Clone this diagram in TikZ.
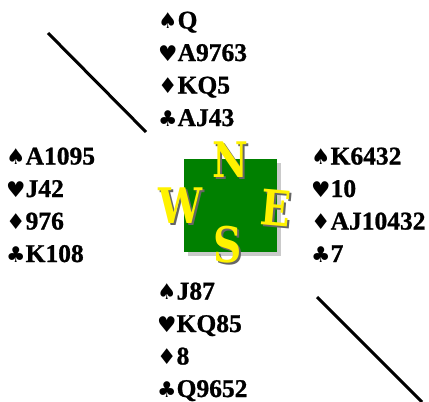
\documentclass[tikz,border=0pt]{standalone}
\usepackage{fontspec}
\setmainfont{Liberation Serif}[BoldFeatures={FakeBold=1}]
\newfontfamily\suitfont{DejaVu Sans}[Scale=0.85]
\newfontfamily\compassfont{DejaVu Serif}
\usetikzlibrary{positioning}

\newcommand\spd{{\suitfont ♠}}
\newcommand\hrt{{\suitfont ♥}}
\newcommand\dmd{{\suitfont ♦}}
\newcommand\clb{{\suitfont ♣}}
\newcommand\narrow[1]{\scalebox{0.8}[1]{#1}}

\begin{document}
\begin{tikzpicture}[x=1pt, y=-1pt,
    every node/.style={inner sep=0pt},
    hand/.style={anchor=base west, align=left, font=\bfseries\fontsize{25.5}{32.5}\selectfont},
    letter/.style={font=\compassfont\bfseries\fontsize{49}{49}\selectfont}]
    \useasboundingbox (0,0) rectangle (429,402);

    % the four hands (anchored at the baseline of the last line)
    \node (north) [hand] at (158,126) {\spd Q\\\hrt A9763\\\dmd KQ5\\\clb AJ43};
    \node (west)  [hand] at (6,262)   {\spd A1095\\\hrt J42\\\dmd 976\\\clb K108};
    \node (east)  [hand] at (311,262) {\spd K6432\\\hrt 10\\\dmd AJ10432\\\clb 7};
    \node (south) [hand] at (157,397) {\spd J87\\\hrt KQ85\\\dmd 8\\\clb Q9652};

    % compass
    \fill[black!35, opacity=0.6] (188,163) rectangle (281,256);
    \fill[green!50!black] (184,159) rectangle (277,252);

    \node (nshadow) [letter, black!60]  at (232,162) {\narrow{N}};
    \node (n)       [letter, yellow]    at (230,160) {\narrow{N}};
    \node (wshadow) [letter, black!60]  at (183,208) {\narrow{W}};
    \node (w)       [letter, yellow]    at (181,206) {\narrow{W}};
    \node (eshadow) [letter, black!60, rotate=-5] at (278,210) {\narrow{E}};
    \node (e)       [letter, yellow, rotate=-5]   at (276,208) {\narrow{E}};
    \node (sshadow) [letter, black!60]  at (230,247) {\narrow{S}};
    \node (s)       [letter, yellow]    at (228,245) {\narrow{S}};

    % the two slashes
    \coordinate (tl1) at (48,33);
    \coordinate (tl2) at (146,132);
    \coordinate (br1) at (317,297);
    \coordinate (br2) at (422,402);
    \draw[line width=3pt] (tl1) -- (tl2);
    \draw[line width=3pt] (br1) -- (br2);
\end{tikzpicture}
\end{document}
